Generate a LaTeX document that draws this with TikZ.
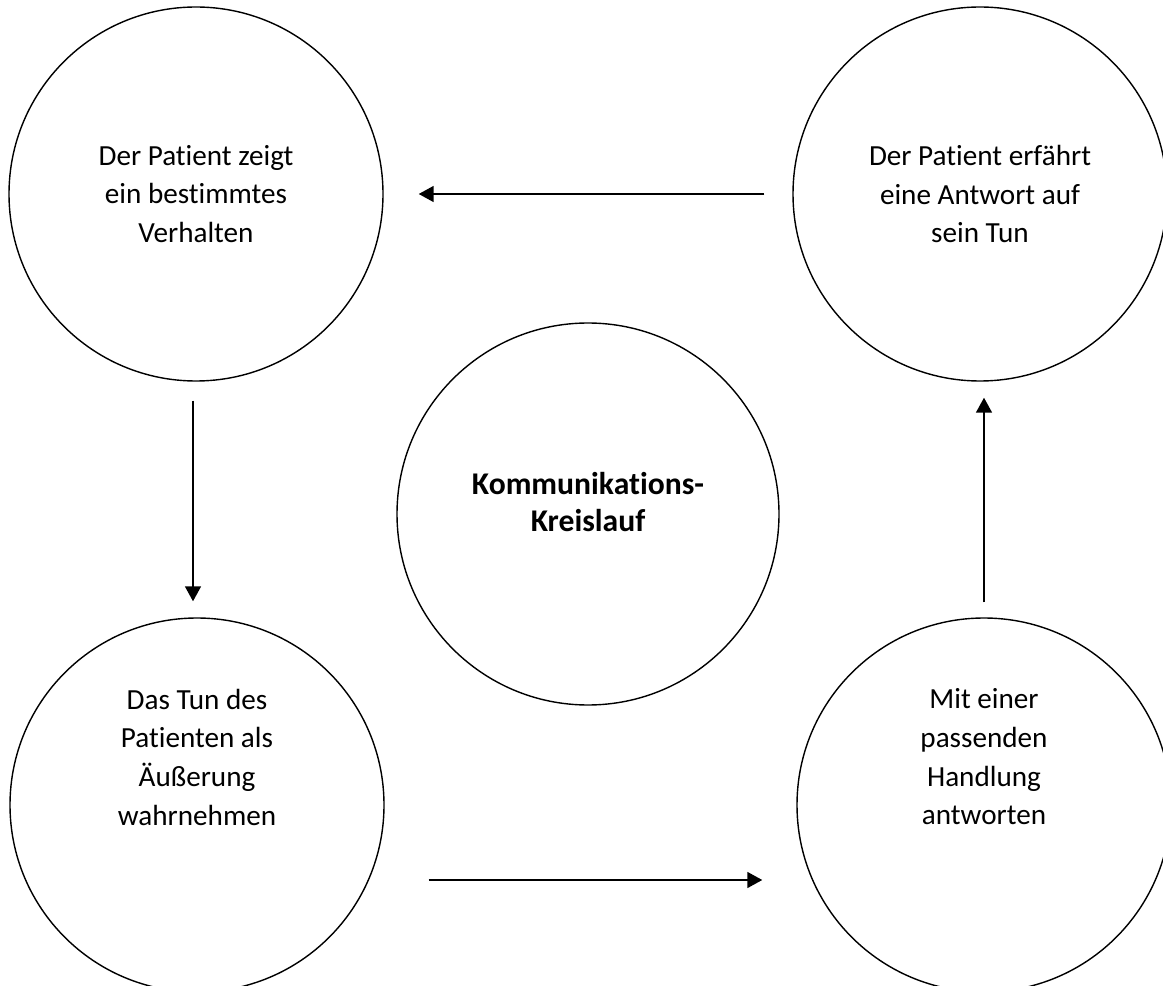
\documentclass[tikz,border=0pt]{standalone}
\usepackage{fontspec}
\setmainfont{Carlito}[Ligatures=NoCommon]
\usetikzlibrary{arrows.meta}
\newcommand{\pxUnit}{0.02cm}
\newcommand{\circleText}{\fontsize{16.6}{22}\selectfont}
\newcommand{\titleText}{\fontsize{18}{21}\selectfont\bfseries}

\begin{document}
\begin{tikzpicture}[x=\pxUnit, y=-\pxUnit,
      kreis/.style={draw, circle, line width=0.8pt, inner sep=0pt, minimum size=374*\pxUnit},
      kreisgross/.style={kreis, minimum size=382*\pxUnit},
      kreistext/.style={align=center, font=\circleText},
      pfeil/.style={line width=1.1pt, -{Triangle[length=8.5pt,width=9pt]}}]
         \clip (0,0) rectangle (1163,986);

         % die Kreise
         \node[kreis] (tl) at (196,194) {};
         \node[kreis] (tr) at (980,194) {};
         \node[kreis] (bl) at (197,805) {};
         \node[kreis] (br) at (984,805) {};
         \node[kreisgross] (mid) at (588,514) {};

         % die Texte
         \node[kreistext] (tlText) at (196,194) {Der Patient zeigt\\ein bestimmtes\\Verhalten};
         \node[kreistext] (trText) at (980,194) {Der Patient erfährt\\eine Antwort auf\\sein Tun};
         \node[kreistext] (blText) at (197,757) {Das Tun des\\Patienten als\\Äußerung\\wahrnehmen};
         \node[kreistext] (brText) at (984,757) {Mit einer\\passenden\\Handlung\\antworten};
         \node[kreistext, font=\titleText] (midText) at (588,502) {Kommunikations-\\Kreislauf};

         % die Pfeile
         \draw[pfeil, shorten <=28*\pxUnit, shorten >=35*\pxUnit] (tr.west) -- (tl.east);
         \draw[pfeil, shorten <=19*\pxUnit, shorten >=16*\pxUnit]
            ([xshift=-3*\pxUnit]tl.south) -- ([xshift=-4*\pxUnit]bl.north);
         \draw[pfeil, shorten <=44*\pxUnit, shorten >=34*\pxUnit]
            ([yshift=-75*\pxUnit]bl.east) -- ([yshift=-75*\pxUnit]br.west);
         \draw[pfeil, shorten <=15*\pxUnit, shorten >=16*\pxUnit]
            (br.north) -- ([xshift=4*\pxUnit]tr.south);
      \end{tikzpicture}
\end{document}
